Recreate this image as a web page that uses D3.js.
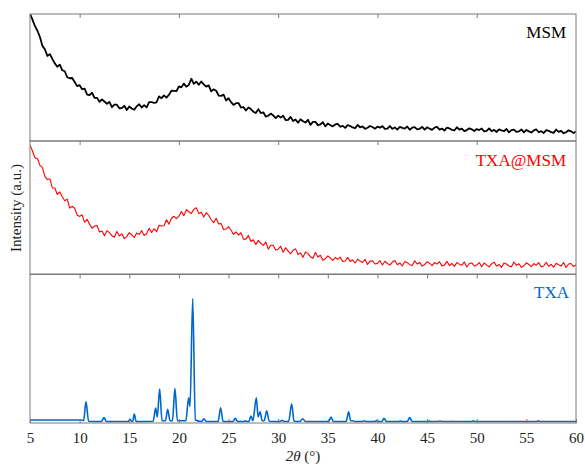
<!DOCTYPE html>
<html>
<head>
<meta charset="utf-8">
<script src="https://cdn.jsdelivr.net/npm/d3@7"></script>
<style>
  html, body { margin: 0; padding: 0; background: #fff; }
  #xrd-stack { width: 585px; height: 464px; }
  .panel-frame { fill: none; stroke: #7a7a7a; stroke-width: 1; }
  .tick line { stroke: #7a7a7a; }
  .tick text { font-family: "Liberation Serif", "Times New Roman", serif; font-size: 15px; fill: #222; }
  .axis-title { font-family: "Liberation Serif", "Times New Roman", serif; font-size: 15px; fill: #222; }
  .sample-label { font-family: "Liberation Serif", "Times New Roman", serif; font-size: 17px; }
</style>
</head>
<body>
<div id="xrd-stack"></div>
<script>
// 2theta grid for the amorphous scans (0.25 deg step, 5 -> 60)
const scanStart = 5;
const scanStep = 0.25;

// MSM intensity (a.u., normalised to panel height)
const msmValues = [
  100.2, 95.6, 90.4, 86.8, 81.9, 74.9, 72.2, 67.0, 68.4, 64.6,
  61.1, 58.5, 60.1, 55.7, 54.9, 50.2, 49.4, 49.6, 46.4, 43.2,
  44.0, 40.8, 41.2, 36.6, 36.2, 38.0, 34.0, 34.0, 30.8, 32.8,
  31.1, 29.3, 30.8, 26.6, 28.7, 28.6, 25.8, 26.0, 27.7, 24.4,
  27.2, 25.6, 24.6, 27.3, 28.9, 26.4, 28.2, 26.5, 30.6, 30.6,
  30.1, 30.5, 35.1, 33.7, 35.9, 34.2, 36.4, 39.6, 39.4, 39.2,
  43.0, 42.3, 45.2, 42.8, 44.2, 49.0, 45.0, 46.7, 44.3, 46.8,
  44.6, 42.8, 43.8, 39.1, 40.7, 39.6, 35.8, 35.5, 36.5, 31.9,
  33.7, 30.6, 28.4, 29.8, 29.9, 26.4, 26.7, 24.0, 26.4, 25.1,
  23.1, 22.0, 25.1, 22.0, 22.6, 19.2, 19.9, 21.6, 20.1, 18.0,
  20.0, 18.4, 19.9, 16.4, 16.6, 19.0, 15.7, 16.9, 14.4, 17.1,
  15.6, 14.5, 16.7, 12.7, 15.0, 15.1, 12.5, 13.0, 14.8, 11.5,
  13.8, 12.5, 11.5, 13.0, 13.5, 11.2, 11.9, 10.3, 12.5, 11.8,
  10.7, 10.1, 12.6, 10.8, 11.5, 9.5, 10.4, 11.8, 11.0, 9.7,
  11.3, 10.5, 11.7, 9.5, 9.8, 11.8, 9.6, 10.7, 9.0, 11.1,
  10.3, 9.7, 11.4, 8.8, 10.6, 10.9, 9.2, 9.6, 11.1, 8.9,
  10.8, 9.7, 8.8, 10.5, 11.1, 9.0, 9.8, 8.2, 10.6, 9.9,
  8.8, 8.3, 10.8, 9.0, 9.8, 7.8, 8.6, 10.0, 9.2, 7.9,
  9.4, 8.6, 9.8, 7.6, 7.9, 9.9, 7.7, 8.8, 7.1, 9.2,
  8.3, 7.7, 9.5, 6.8, 8.6, 8.9, 7.2, 7.6, 9.1, 6.8,
  8.7, 7.6, 6.7, 8.4, 9.1, 6.9, 7.8, 6.3, 8.6, 8.0,
  6.9, 6.4, 9.0, 7.2, 8.0, 6.1, 6.9, 8.4, 7.6, 6.3,
  7.5
];

// TXA@MSM intensity (a.u., normalised to panel height)
const txaMsmValues = [
  97.1, 92.5, 87.3, 86.8, 81.7, 80.2, 73.2, 71.0, 71.6, 64.7,
  64.7, 59.8, 61.7, 58.1, 55.1, 56.3, 49.5, 50.9, 49.4, 44.4,
  43.3, 44.5, 38.9, 41.1, 37.5, 34.4, 36.0, 36.5, 31.6, 32.3,
  28.7, 32.6, 31.1, 28.8, 27.6, 32.0, 28.6, 30.2, 26.6, 28.1,
  31.1, 29.5, 27.5, 30.9, 29.7, 32.6, 29.0, 30.2, 34.4, 31.2,
  34.0, 31.8, 36.7, 36.1, 36.3, 40.8, 37.5, 41.9, 43.4, 41.6,
  43.5, 47.0, 43.9, 48.4, 46.8, 45.5, 48.6, 49.8, 45.4, 46.5,
  42.8, 46.1, 44.1, 40.8, 38.6, 41.9, 37.6, 38.0, 33.4, 33.8,
  35.6, 32.9, 29.7, 31.7, 29.3, 31.0, 26.2, 26.2, 29.0, 24.4,
  25.7, 22.1, 25.3, 23.1, 21.5, 24.1, 18.7, 21.6, 21.6, 18.1,
  18.6, 20.9, 16.4, 19.7, 17.2, 15.2, 17.8, 18.9, 14.6, 15.9,
  12.6, 16.6, 15.3, 13.0, 11.8, 16.2, 12.8, 14.1, 10.3, 11.5,
  13.6, 12.2, 10.3, 12.4, 11.0, 12.7, 9.4, 9.8, 12.5, 9.4,
  10.7, 8.3, 11.1, 9.7, 8.7, 11.1, 7.2, 9.7, 10.0, 7.5,
  8.0, 10.0, 6.8, 9.6, 7.9, 6.7, 9.0, 10.1, 7.0, 8.3,
  6.0, 9.4, 8.5, 7.0, 6.4, 9.9, 7.5, 8.7, 5.9, 7.1,
  9.3, 8.1, 6.3, 8.6, 7.4, 9.2, 6.1, 6.7, 9.5, 6.4,
  7.9, 5.7, 8.6, 7.4, 6.6, 9.1, 5.3, 7.9, 8.3, 6.0,
  6.7, 8.6, 5.5, 8.3, 6.7, 5.4, 7.8, 8.9, 5.9, 7.2,
  5.0, 8.3, 7.5, 6.0, 5.4, 9.0, 6.5, 7.7, 5.0, 6.2,
  8.4, 7.2, 5.5, 7.8, 6.6, 8.5, 5.4, 6.0, 8.8, 5.8,
  7.3, 5.1, 8.1, 6.9, 6.1, 8.6, 4.9, 7.5, 7.9, 5.6,
  6.8
];

// TXA crystalline pattern traced as [2theta, intensity] vertices
const txaTrace = [
  [5, 2.0], [10.2, 2.0], [10.4, 1.5], [10.64, 14.4], [10.9, 1.2],
  [12.2, 1.0], [12.45, 3.6], [12.7, 1.0],
  [14.9, 1.0], [15.07, 2.7], [15.25, 1.0], [15.35, 1.2], [15.5, 6.0], [15.7, 1.0],
  [17.4, 1.2], [17.66, 10.0], [17.82, 4.0], [18.06, 22.8], [18.3, 1.5],
  [18.65, 1.5], [18.87, 9.3], [19.1, 1.5],
  [19.35, 1.5], [19.6, 23.2], [19.85, 1.5],
  [20.7, 1.5], [20.98, 16.9], [21.12, 11.0], [21.39, 83.8], [21.65, 2.0],
  [22.3, 1.0], [22.5, 2.9], [22.75, 1.0],
  [23.95, 1.0], [24.2, 10.3], [24.45, 1.0],
  [25.45, 1.0], [25.68, 3.2], [25.9, 1.0],
  [26.55, 1.0], [26.7, 1.5], [26.85, 1.0],
  [27.05, 1.0], [27.26, 4.7], [27.45, 1.5], [27.8, 16.9], [27.98, 4.0], [28.17, 7.6], [28.4, 1.5],
  [28.6, 1.5], [28.84, 8.3], [29.1, 1.2],
  [30.2, 1.0], [30.4, 1.8], [30.6, 1.0],
  [31.05, 1.0], [31.36, 12.8], [31.6, 1.2],
  [32.2, 1.0], [32.47, 2.9], [32.75, 1.0],
  [35.1, 1.0], [35.32, 4.0], [35.55, 1.0],
  [36.85, 1.0], [37.1, 7.6], [37.3, 1.5], [37.5, 1.5], [37.7, 1.0],
  [38.5, 1.0], [38.67, 1.5], [38.85, 1.0],
  [39.75, 1.0], [39.9, 1.6], [40.05, 1.0],
  [40.45, 1.0], [40.66, 3.2], [40.9, 1.0],
  [42.15, 1.0], [42.3, 1.3], [42.45, 1.0],
  [43.0, 1.0], [43.25, 3.6], [43.5, 1.0],
  [45.05, 1.0], [45.2, 1.3], [45.35, 1.0],
  [46.1, 1.0], [46.3, 1.3], [46.5, 1.0],
  [47.45, 1.0], [47.6, 1.1], [47.75, 1.0],
  [49.5, 1.0], [49.65, 1.5], [49.8, 1.0],
  [56.05, 1.0], [56.2, 1.4], [56.35, 1.0],
  [60, 1.0]
];

const sampleNames = ["MSM", "TXA@MSM", "TXA"];
const sampleColors = ["#000000", "#ff0000", "#0066cc"];
const bottomTicks = [5, 10, 15, 20, 25, 30, 35, 40, 45, 50, 55, 60];

(function() {
  if (typeof d3 === 'undefined') {
    console.error('D3.js not loaded');
    return;
  }

  const container = document.getElementById('xrd-stack');
  const width = 585;
  const height = 464;
  const left = 30, right = 576;

  const toPoints = vals => vals.map((v, i) => [scanStart + i * scanStep, v]);

  const panels = [
    { name: sampleNames[0], color: sampleColors[0], top: 14, bottom: 141, points: toPoints(msmValues),
      topTicks: [10, 20, 30, 40, 50], width: 1.8, curve: d3.curveLinear, labelX: 566, labelY: 38 },
    { name: sampleNames[1], color: sampleColors[1], top: 141, bottom: 274, points: toPoints(txaMsmValues),
      topTicks: [10, 20, 30, 40, 50], width: 1.1, curve: d3.curveLinear, labelX: 566, labelY: 166 },
    { name: sampleNames[2], color: sampleColors[2], top: 274.5, bottom: 423, points: txaTrace,
      topTicks: [10, 15, 20, 25, 30, 35, 40, 45, 50, 55], width: 1.6, curve: d3.curveMonotoneX, labelX: 569, labelY: 298 }
  ];

  const svg = d3.select(container)
    .append("svg")
    .attr("width", width)
    .attr("height", height);

  const x = d3.scaleLinear().domain([5, 60]).range([left, right]);

  panels.forEach((p, i) => {
    const y = d3.scaleLinear().domain([0, 100]).range([p.bottom, p.top]);

    svg.append("clipPath")
      .attr("id", "clip-" + i)
      .append("rect")
      .attr("x", left)
      .attr("y", p.top)
      .attr("width", right - left)
      .attr("height", p.bottom - p.top);

    const line = d3.line()
      .x(d => x(d[0]))
      .y(d => y(d[1]))
      .curve(p.curve);

    svg.append("path")
      .datum(p.points)
      .attr("clip-path", `url(#clip-${i})`)
      .attr("fill", "none")
      .attr("stroke", p.color)
      .attr("stroke-width", p.width)
      .attr("stroke-linejoin", "round")
      .attr("d", line);

    // inward ticks on the top edge of each panel
    const topAxis = svg.append("g")
      .attr("transform", `translate(0,${p.top})`)
      .call(d3.axisTop(x).tickValues(p.topTicks).tickSize(-4).tickFormat(""));
    topAxis.select(".domain").remove();

    svg.append("rect")
      .attr("class", "panel-frame")
      .attr("x", left)
      .attr("y", p.top)
      .attr("width", right - left)
      .attr("height", p.bottom - p.top);

    svg.append("text")
      .attr("class", "sample-label")
      .attr("x", p.labelX)
      .attr("y", p.labelY)
      .attr("text-anchor", "end")
      .attr("fill", p.color)
      .text(p.name);
  });

  const last = panels[panels.length - 1];
  const bottomAxis = svg.append("g")
    .attr("transform", `translate(0,${last.bottom})`)
    .call(d3.axisBottom(x).tickValues(bottomTicks).tickSize(-4).tickPadding(9).tickFormat(d3.format("d")));
  bottomAxis.select(".domain").remove();

  const xTitle = svg.append("text")
    .attr("class", "axis-title")
    .attr("x", 303)
    .attr("y", 461)
    .attr("text-anchor", "middle");
  xTitle.append("tspan").attr("font-style", "italic").text("2θ");
  xTitle.append("tspan").text(" (°)");

  svg.append("text")
    .attr("class", "axis-title")
    .attr("transform", "translate(21,208) rotate(-90)")
    .attr("text-anchor", "middle")
    .text("Intensity (a.u.)");
})();
</script>
</body>
</html>
